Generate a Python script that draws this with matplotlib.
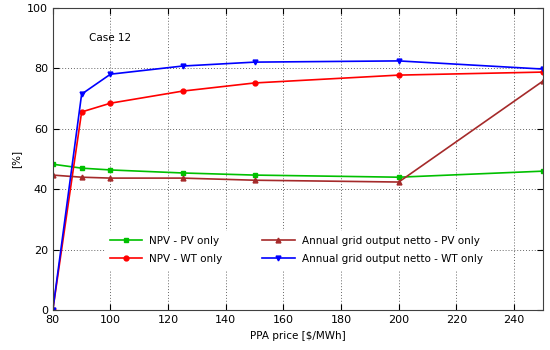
import matplotlib
matplotlib.use("Agg")
import matplotlib.pyplot as plt

# PPA price [$/MWh]
price = [80, 90, 100, 125, 150, 200, 250]

npv_pv = [48.3, 47.0, 46.4, 45.4, 44.7, 44.0, 46.0]
npv_wt = [0.0, 65.6, 68.5, 72.5, 75.2, 77.8, 78.8]
grid_pv = [44.7, 44.0, 43.7, 43.7, 43.0, 42.4, 75.8]
grid_wt = [0.0, 71.5, 78.1, 80.8, 82.1, 82.5, 79.8]

labels = ["NPV - PV only", "NPV - WT only",
          "Annual grid output netto - PV only", "Annual grid output netto - WT only"]

plt.rcParams['font.family'] = 'DejaVu Sans'
plt.rcParams['font.size'] = 7.5

fig = plt.figure(figsize=(5.5, 3.5), dpi=100)
ax = fig.add_axes([0.096, 0.114, 0.891, 0.863])

ax.plot(price, npv_pv, color='#00c000', marker='s', ms=3.5, lw=1.2, label=labels[0])
ax.plot(price, npv_wt, color='#ff0000', marker='o', ms=3.5, lw=1.2, label=labels[1])
ax.plot(price, grid_pv, color='#a52a2a', marker='^', ms=3.5, lw=1.2, label=labels[2])
ax.plot(price, grid_wt, color='#0000ff', marker='v', ms=3.5, lw=1.2, label=labels[3])

ax.set_xlim(80, 250)
ax.set_ylim(0, 100)
ax.set_xticks(range(80, 260, 20))
ax.set_yticks(range(0, 120, 20))
ax.tick_params(direction='in', top=True, right=True, length=4, colors='black', labelsize=8)
for s in ax.spines.values():
    s.set_color('#404040')
ax.grid(True, linestyle=(0, (1, 2)), color='#666666', lw=0.7)
ax.set_axisbelow(True)

ax.set_xlabel("PPA price [$/MWh]")
ax.set_ylabel("[%]")
ax.text(100, 90, "Case 12", ha='center', va='center')

leg = ax.legend(ncol=2, loc='center', bbox_to_anchor=(0.497, 0.199), frameon=True,
                edgecolor='white', framealpha=1.0, fancybox=False,
                handlelength=3.1, handletextpad=0.7, columnspacing=3.8,
                borderpad=0.5, labelspacing=0.75)

fig.savefig("out.png", dpi=100)
